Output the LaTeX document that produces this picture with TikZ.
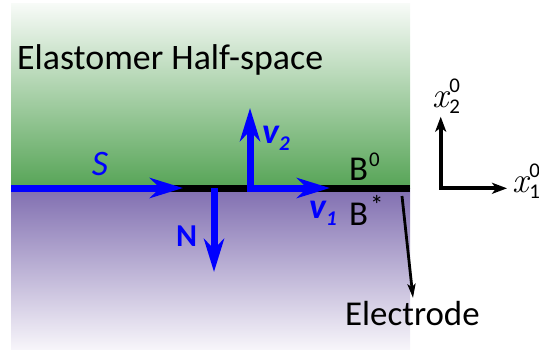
\documentclass[tikz,border=0pt]{standalone}
\usepackage{fontspec}
\setmainfont{Carlito}
\newfontfamily\lmrfont{Latin Modern Roman}
\usetikzlibrary{arrows.meta}
\definecolor{greentop}{RGB}{248,251,248}
\definecolor{greenbot}{RGB}{86,164,86}
\definecolor{purtop}{RGB}{128,110,176}
\definecolor{purbot}{RGB}{247,245,250}
\definecolor{vecblue}{RGB}{0,0,255}
\newcommand{\smallfig}[1]{{\fontsize{21}{21}\selectfont #1}}
\begin{document}
\begin{tikzpicture}[x=1bp,y=-1bp,
  vec/.style={draw=vecblue, line width=7bp, -{Stealth[length=33bp,width=20bp,inset=10bp]}},
  axisline/.style={draw=black, line width=4bp, line join=miter},
  lbl/.style={inner sep=0pt, font=\fontsize{35}{40}\selectfont},
  vlbl/.style={lbl, text=vecblue}]
\useasboundingbox (0,0) rectangle (539,349);
\shade[top color=greentop, bottom color=greenbot] (11,3) rectangle (410,188);
\shade[top color=purtop, bottom color=purbot] (11,188) rectangle (410,349);
% coordinates
\coordinate (Sstart) at (11,188);
\coordinate (Send) at (183,188);
\coordinate (Lend) at (410,188);
\coordinate (v2base) at (250,191.5);
\coordinate (v2tip) at (250,108);
\coordinate (v1base) at (246.5,188);
\coordinate (v1tip) at (330,188);
\coordinate (Nbase) at (214,188);
\coordinate (Ntip) at (214,272);
\coordinate (axO) at (440.7,188.3);
\coordinate (ax2) at (440.7,116.7);
\coordinate (ax1) at (507,188.3);
\coordinate (elA) at (402,196);
\coordinate (elB) at (413,298);
% interface
\draw[line width=7bp] (Sstart) -- (Lend);
% vectors
\draw[vec] (Sstart) -- (Send);
\draw[vec] (Nbase) -- (Ntip);
\draw[vec] (v2base) -- (v2tip);
\draw[vec] (v1base) -- (v1tip);
% labels
\node[lbl, anchor=base west, font=\fontsize{36}{40}\selectfont] (title) at (17,69.3) {Elastomer Half-space};
\node[vlbl, anchor=base, font=\fontsize{36}{40}\selectfont] (S) at (100,175) {\itshape S};
\node[vlbl, anchor=base, font=\fontsize{32}{36}\selectfont\bfseries] (N) at (186.5,246.7) {N};
\node[vlbl, anchor=base west, font=\fontsize{36}{40}\selectfont] (v2) at (262,143) {\bfseries\itshape v\raisebox{-7bp}{\smallfig{2}}};
\node[vlbl, anchor=base west, font=\fontsize{36}{40}\selectfont] (v1) at (309,218) {\bfseries\itshape v\raisebox{-7bp}{\smallfig{1}}};
\node[lbl, anchor=base west] (B0) at (349,180) {B\kern1bp\raisebox{14bp}{\smallfig{0}}};
\node[lbl, anchor=base west] (Bs) at (349,225.5) {B\kern2bp\raisebox{11bp}{{\fontsize{27}{27}\selectfont *}}};
\node[lbl, anchor=base west] (el) at (345,325.7) {Electrode};
% electrode pointer
\draw[line width=2.8bp, -{Stealth[length=14bp,width=8bp,inset=3bp]}] (elA) -- (elB);
% axes
\draw[axisline, {Stealth[length=15bp,width=11bp,inset=4bp]}-{Stealth[length=15bp,width=11bp,inset=4bp]}] (ax2) -- (axO) -- (ax1);
\node[lbl, anchor=base west, font=\fontsize{36}{40}\selectfont] (x2) at (432,107) {{\lmrfont\itshape x}\kern1bp\rlap{\raisebox{15bp}{\smallfig{0}}}\raisebox{-6bp}{\smallfig{2}}};
\node[lbl, anchor=base west, font=\fontsize{36}{40}\selectfont] (x1) at (512,192) {{\lmrfont\itshape x}\kern1bp\rlap{\raisebox{15bp}{\smallfig{0}}}\raisebox{-6bp}{\smallfig{1}}};
\end{tikzpicture}
\end{document}
